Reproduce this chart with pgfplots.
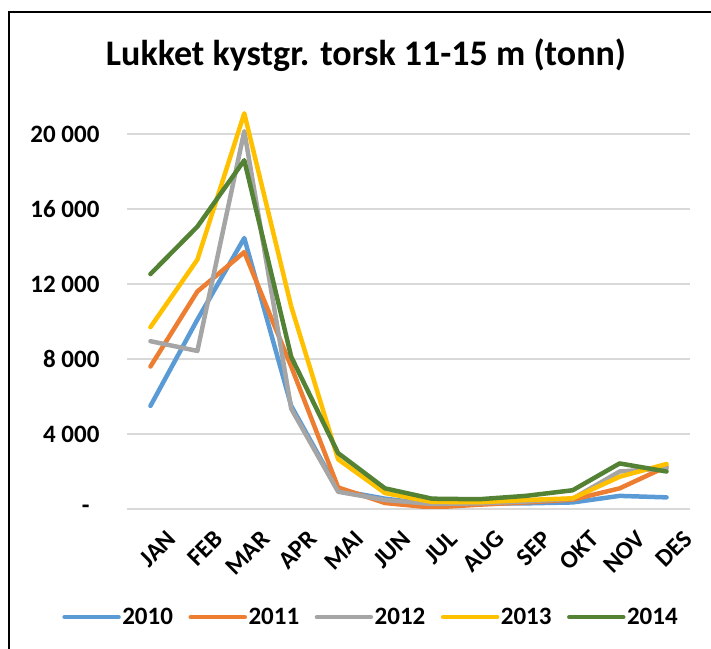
\documentclass[border=0pt]{standalone}
\usepackage{pgfplots}
\pgfplotsset{compat=1.18}
\usepackage{fontspec}
\setmainfont{Carlito}
\definecolor{c2010}{HTML}{5B9BD5}
\definecolor{c2011}{HTML}{ED7D31}
\definecolor{c2012}{HTML}{A5A5A5}
\definecolor{c2013}{HTML}{FFC000}
\definecolor{c2014}{HTML}{548235}
\definecolor{gridgray}{HTML}{D9D9D9}
\begin{document}
\begin{tikzpicture}
\path[use as bounding box] (0bp,0bp) rectangle (711bp,649bp);
\draw[line width=2bp] (9bp,0bp) -- (9bp,637bp) -- (711bp,637bp);
\node[font=\fontsize{36bp}{42bp}\selectfont\bfseries] at (366bp,594bp) {Lukket kystgr. torsk 11-15 m (tonn)};
\begin{axis}[
  at={(127bp,140bp)}, anchor=south west,
  scale only axis, width=563bp, height=412.5bp,
  xmin=-0.5, xmax=11.5, ymin=0, ymax=22000,
  scaled y ticks=false,
  axis line style={draw=none}, tick style={draw=none},
  ymajorgrids, grid style={gridgray, line width=1.5bp},
  ytick={0,4000,8000,12000,16000,20000},
  yticklabels={-\rule{10bp}{0bp},4 000,8 000,12 000,16 000,20 000},
  yticklabel style={font=\fontsize{25bp}{30bp}\selectfont\bfseries, xshift=-24bp},
  xtick={0,...,11},
  xticklabels={JAN,FEB,MAR,APR,MAI,JUN,JUL,AUG,SEP,OKT,NOV,DES},
  xticklabel style={font=\fontsize{25bp}{30bp}\selectfont\bfseries, rotate=45, anchor=north east, inner sep=1bp, yshift=-24bp, xshift=-2bp},
  every axis plot/.append style={line width=4.5bp, line join=round, line cap=round},
  legend columns=5,
  legend style={draw=none, at={(0.433,-0.262)}, anchor=center,
    font=\fontsize{25bp}{30bp}\selectfont\bfseries,
    /tikz/every even column/.append style={column sep=14bp},
    nodes={inner sep=1.5bp}},
  legend image code/.code={\draw[#1] (0bp,0bp) -- (54bp,0bp);},
]
\addplot[c2010] coordinates {(0,5500)(1,10100)(2,14450)(3,5500)(4,1000)(5,550)(6,250)(7,300)(8,300)(9,350)(10,700)(11,620)};
\addplot[c2011] coordinates {(0,7600)(1,11600)(2,13700)(3,7600)(4,1150)(5,320)(6,80)(7,230)(8,350)(9,500)(10,1100)(11,2260)};
\addplot[c2012] coordinates {(0,8950)(1,8430)(2,20150)(3,5350)(4,920)(5,480)(6,270)(7,300)(8,400)(9,550)(10,2000)(11,2170)};
\addplot[c2013] coordinates {(0,9700)(1,13300)(2,21100)(3,10800)(4,2650)(5,850)(6,380)(7,360)(8,480)(9,570)(10,1720)(11,2400)};
\addplot[c2014] coordinates {(0,12530)(1,15060)(2,18600)(3,8120)(4,2980)(5,1100)(6,550)(7,520)(8,700)(9,1000)(10,2430)(11,2000)};
\legend{2010,2011,2012,2013,2014}
\end{axis}
\end{tikzpicture}
\end{document}
